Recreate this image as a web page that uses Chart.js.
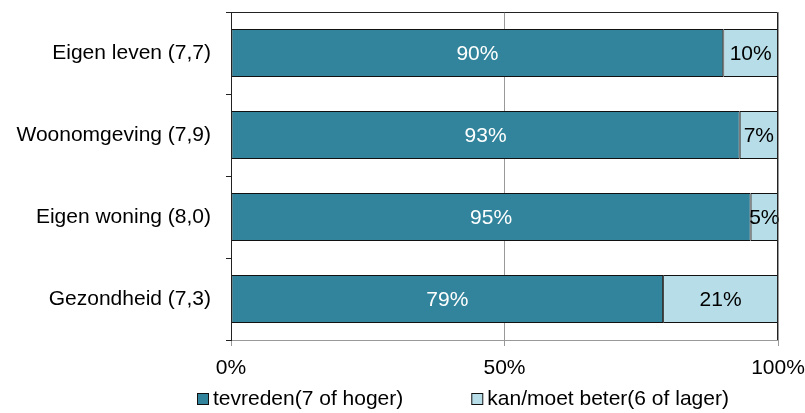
<!DOCTYPE html>
<html>
<head>
<meta charset="utf-8">
<script src="https://cdn.jsdelivr.net/npm/chart.js@4"></script>
<style>
  html, body { margin: 0; padding: 0; background: #fff; }
  #wrap { width: 805px; height: 413px; }
</style>
</head>
<body>
<div id="wrap"><canvas id="chart"></canvas></div>
<script>
// waarden uit de figuur
const categories = ['Eigen leven (7,7)', 'Woonomgeving (7,9)', 'Eigen woning (8,0)', 'Gezondheid (7,3)']
const tevreden = [90, 93, 95, 79]
const kanBeter = [10, 7, 5, 21]
const xTicks = [0, 50, 100]

const font = { family: '"Liberation Sans", Arial, sans-serif', size: 21 }
const fontStr = font.size + 'px ' + font.family

// percentages in de balken
const barLabels = {
  id: 'barLabels',
  afterDatasetsDraw(chart) {
    const ctx = chart.ctx
    ctx.save()
    ctx.font = fontStr
    ctx.textAlign = 'center'
    ctx.textBaseline = 'middle'
    chart.data.datasets.forEach((ds, i) => {
      chart.getDatasetMeta(i).data.forEach((bar, j) => {
        const x = (bar.x + bar.base) / 2
        ctx.fillStyle = i === 0 ? '#fff' : '#000'
        ctx.fillText(ds.data[j] + '%', x, bar.y + 1)
      })
    })
    ctx.restore()
  }
}

// kader om het plotgebied + legenda onderaan
const frame = {
  id: 'frame',
  afterDraw(chart) {
    const a = chart.chartArea
    const ctx = chart.ctx
    ctx.save()
    ctx.strokeStyle = '#222'
    ctx.lineWidth = 1
    ctx.beginPath()
    ctx.moveTo(a.left + 0.5, a.bottom)
    ctx.lineTo(a.left + 0.5, a.top + 0.5)
    ctx.lineTo(a.right - 0.5, a.top + 0.5)
    ctx.lineTo(a.right - 0.5, a.bottom)
    ctx.stroke()

    // legenda
    ctx.font = fontStr
    ctx.textBaseline = 'middle'
    ctx.textAlign = 'left'
    const y = 399
    let x = 197
    chart.data.datasets.forEach(ds => {
      ctx.fillStyle = ds.backgroundColor
      ctx.fillRect(x + 0.5, y - 5.5, 11, 11)
      ctx.strokeStyle = '#111'
      ctx.strokeRect(x + 0.5, y - 5.5, 11, 11)
      ctx.fillStyle = '#000'
      ctx.fillText(ds.label, x + 16, y)
      x += 16 + ctx.measureText(ds.label).width + 68
    })
    ctx.restore()
  }
}

new Chart(document.getElementById('chart'), {
  type: 'bar',
  data: {
    labels: categories,
    datasets: [
      {
        label: 'tevreden(7 of hoger)',
        data: tevreden,
        backgroundColor: '#31849B',
        borderColor: '#111',
        borderWidth: 1,
        borderSkipped: false
      },
      {
        label: 'kan/moet beter(6 of lager)',
        data: kanBeter,
        backgroundColor: '#B7DEE8',
        borderColor: '#111',
        borderWidth: 1,
        borderSkipped: false
      }
    ]
  },
  options: {
    indexAxis: 'y',
    responsive: true,
    maintainAspectRatio: false,
    animation: false,
    layout: { padding: { top: 12, right: 27, left: 0, bottom: 0 } },
    datasets: { bar: { categoryPercentage: 1, barPercentage: 0.585 } },
    scales: {
      x: {
        stacked: true,
        min: 0,
        max: 100,
        afterBuildTicks(scale) {
          scale.ticks = xTicks.map(v => ({ value: v }))
        },
        afterFit(scale) {
          scale.height = 73
          scale.paddingLeft = 0
          scale.paddingRight = 0
        },
        border: { color: '#999' },
        grid: { color: '#999', tickLength: 6, tickColor: '#999' },
        ticks: {
          font: font,
          color: '#000',
          padding: 10,
          callback: v => v + '%'
        }
      },
      y: {
        stacked: true,
        afterFit(scale) {
          scale.width = 231
          scale.paddingTop = 0
          scale.paddingBottom = 0
        },
        border: { color: '#222' },
        grid: { drawOnChartArea: false, tickLength: 5, tickColor: '#222', offset: true },
        ticks: { font: font, color: '#000', padding: 15 }
      }
    },
    plugins: {
      tooltip: { enabled: false },
      legend: { display: false }
    }
  },
  plugins: [barLabels, frame]
})
</script>
</body>
</html>
